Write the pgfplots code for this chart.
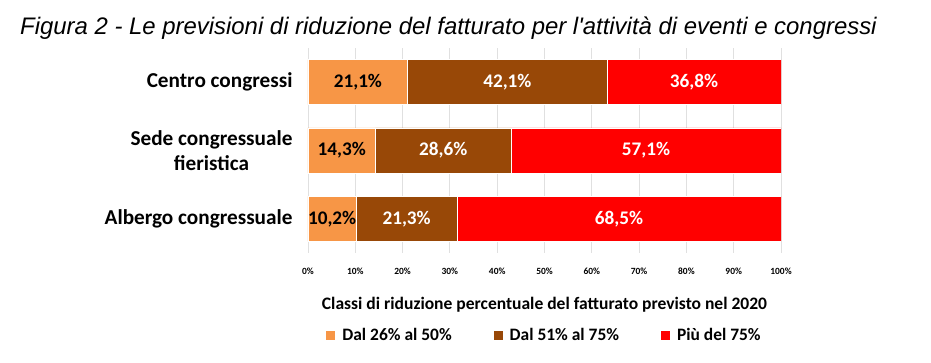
\documentclass[border=0pt]{standalone}
\usepackage{pgfplots}
\pgfplotsset{compat=1.18}
\usepackage{fontspec}
\setmainfont{Carlito}
\newfontfamily\arialfont{Liberation Sans}
\definecolor{cOrange}{HTML}{F79646}
\definecolor{cBrown}{HTML}{984807}
\definecolor{cRed}{HTML}{FF0000}
\begin{document}
\begin{tikzpicture}
\path[use as bounding box] (-308bp,-110bp) rectangle (623bp,253bp);
\node[anchor=base west, inner sep=0pt, font=\arialfont\itshape\fontsize{24}{27}\selectfont] at (-288bp,218bp) {Figura 2 - Le previsioni di riduzione del fatturato per l'attività di eventi e congressi};
\begin{axis}[
  xbar stacked,
  scale only axis,
  width=473bp, height=205bp,
  xmin=0, xmax=100, ymin=-0.5, ymax=2.5,
  bar width=0.66,
  axis line style={draw=none},
  major tick style={draw=none},
  xmajorgrids,
  grid style={black!12, line width=0.8bp},
  xtick={0,10,...,100},
  xticklabels={0\%,10\%,20\%,30\%,40\%,50\%,60\%,70\%,80\%,90\%,100\%},
  xticklabel style={font=\bfseries\fontsize{9.5}{11}\selectfont, yshift=-11bp},
  ytick={0,1,2},
  yticklabels={Albergo congressuale,{Sede congressuale\\fieristica},Centro congressi},
  yticklabel style={align=center, font=\bfseries\fontsize{21.3}{25}\selectfont, xshift=-12bp},
  xlabel={Classi di riduzione percentuale del fatturato previsto nel 2020},
  every axis x label/.style={at={(axis description cs:0.5,0)}, anchor=center, yshift=-52bp, font=\bfseries\fontsize{17.6}{20}\selectfont},
  legend style={at={(axis description cs:0.5,0)}, anchor=center, yshift=-82bp, draw=none, fill=none,
    legend columns=3, font=\bfseries\fontsize{17.5}{20}\selectfont,
    /tikz/every odd column/.append style={column sep=5bp},
    /tikz/every even column/.append style={column sep=40bp}},
  legend image code/.code={\fill[#1,draw=none] (0bp,-4.5bp) rectangle (9bp,4.5bp);},
  nodes near coords={\pgfmathprintnumber[fixed,precision=1,fixed zerofill,use comma,assume math mode=true]{\pgfplotspointmeta}\%},
  every node near coord/.append style={font=\bfseries\fontsize{19.3}{21}\selectfont},
]
\addplot[fill=cOrange, draw=white, line width=0.8bp, every node near coord/.append style={text=black}] coordinates {(10.2,0) (14.3,1) (21.1,2)};
\addplot[fill=cBrown, draw=white, line width=0.8bp, every node near coord/.append style={text=white}] coordinates {(21.3,0) (28.6,1) (42.1,2)};
\addplot[fill=cRed, draw=white, line width=0.8bp, every node near coord/.append style={text=white}] coordinates {(68.5,0) (57.1,1) (36.8,2)};
\legend{Dal 26\% al 50\%, Dal 51\% al 75\%, Più del 75\%}
\end{axis}
\end{tikzpicture}
\end{document}
